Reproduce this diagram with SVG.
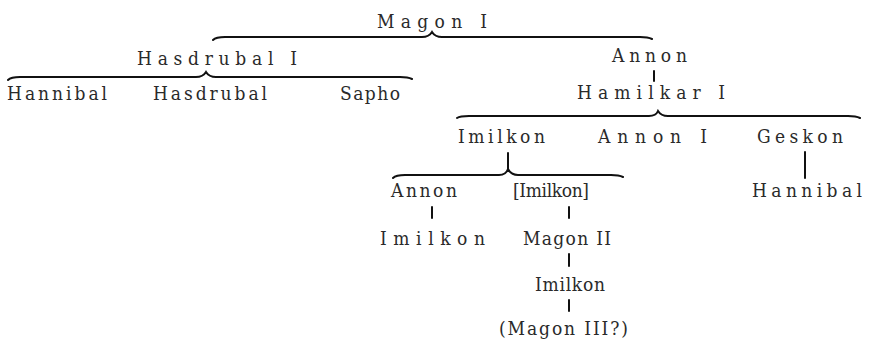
<svg xmlns="http://www.w3.org/2000/svg" width="869" height="341" viewBox="0 0 869 341">
<style>
.t text{font-family:'DejaVu Serif Condensed','DejaVu Serif',serif;font-stretch:condensed;font-size:19px;fill:#2a2a2a}
.br,.tk{fill:none;stroke:#111;stroke-width:2;stroke-linecap:round}
</style>
<rect width="869" height="341" fill="#fff"/>
<g id="connectors">
<path class="br" d="M213,40 Q216,37 225,37 L422,37 Q429,37 432,32 Q435,37 442,37 L640,37 Q648,37 652,39"/>
<path class="br" d="M8,80 Q11,77 20,77 L196,77 Q203,77 206,72 Q209,77 216,77 L400,77 Q408,77 412,79"/>
<path class="br" d="M457,118 Q460,116 469,116 L649,116 Q656,116 658,111 Q661,116 668,116 L848,116 Q856,116 860,118"/>
<path class="br" d="M393,178 Q396,175 405,175 L499,175 Q506,175 508,169 Q511,175 518,175 L611,175 Q619,175 623,177"/>
<line class="tk" x1="654" y1="71" x2="654" y2="81"/>
<line class="tk" x1="508" y1="153" x2="508" y2="169"/>
<line class="tk" x1="805" y1="152" x2="805" y2="178"/>
<line class="tk" x1="432" y1="207" x2="432" y2="218"/>
<line class="tk" x1="569" y1="207" x2="569" y2="218"/>
<line class="tk" x1="569" y1="254" x2="569" y2="266"/>
<line class="tk" x1="569" y1="300" x2="569" y2="311"/>
</g>
<g class="t">
<g id="magon1"><text x="377" y="28" textLength="110" lengthAdjust="spacing">Magon I</text></g>
<g id="hasdrubal1"><text x="137" y="65" textLength="160" lengthAdjust="spacing">Hasdrubal I</text></g>
<g id="annon-a"><text x="612" y="62" textLength="75" lengthAdjust="spacing">Annon</text></g>
<g id="hannibal-a"><text x="7" y="100" textLength="100" lengthAdjust="spacing">Hannibal</text></g>
<g id="hasdrubal"><text x="153" y="100" textLength="114" lengthAdjust="spacing">Hasdrubal</text></g>
<g id="sapho"><text x="340" y="100" textLength="60" lengthAdjust="spacing">Sapho</text></g>
<g id="hamilkar1"><text x="577" y="99" textLength="148" lengthAdjust="spacing">Hamilkar I</text></g>
<g id="imilkon-a"><text x="458" y="143" textLength="87" lengthAdjust="spacing">Imilkon</text></g>
<g id="annon1"><text x="598" y="143" textLength="109" lengthAdjust="spacing">Annon I</text></g>
<g id="geskon"><text x="757" y="143" textLength="86" lengthAdjust="spacing">Geskon</text></g>
<g id="annon-b"><text x="391" y="197" textLength="66" lengthAdjust="spacing">Annon</text></g>
<g id="imilkon-b"><text x="513" y="197" textLength="76" lengthAdjust="spacing">[Imilkon]</text></g>
<g id="hannibal-b"><text x="752" y="197" textLength="110" lengthAdjust="spacing">Hannibal</text></g>
<g id="imilkon-c"><text x="380" y="245" textLength="105" lengthAdjust="spacing">Imilkon</text></g>
<g id="magon2"><text x="523" y="245" textLength="88" lengthAdjust="spacing">Magon II</text></g>
<g id="imilkon-d"><text x="535" y="291" textLength="70" lengthAdjust="spacing">Imilkon</text></g>
<g id="magon3"><text x="499" y="335" textLength="129" lengthAdjust="spacing">(Magon III?)</text></g>
</g>
</svg>
